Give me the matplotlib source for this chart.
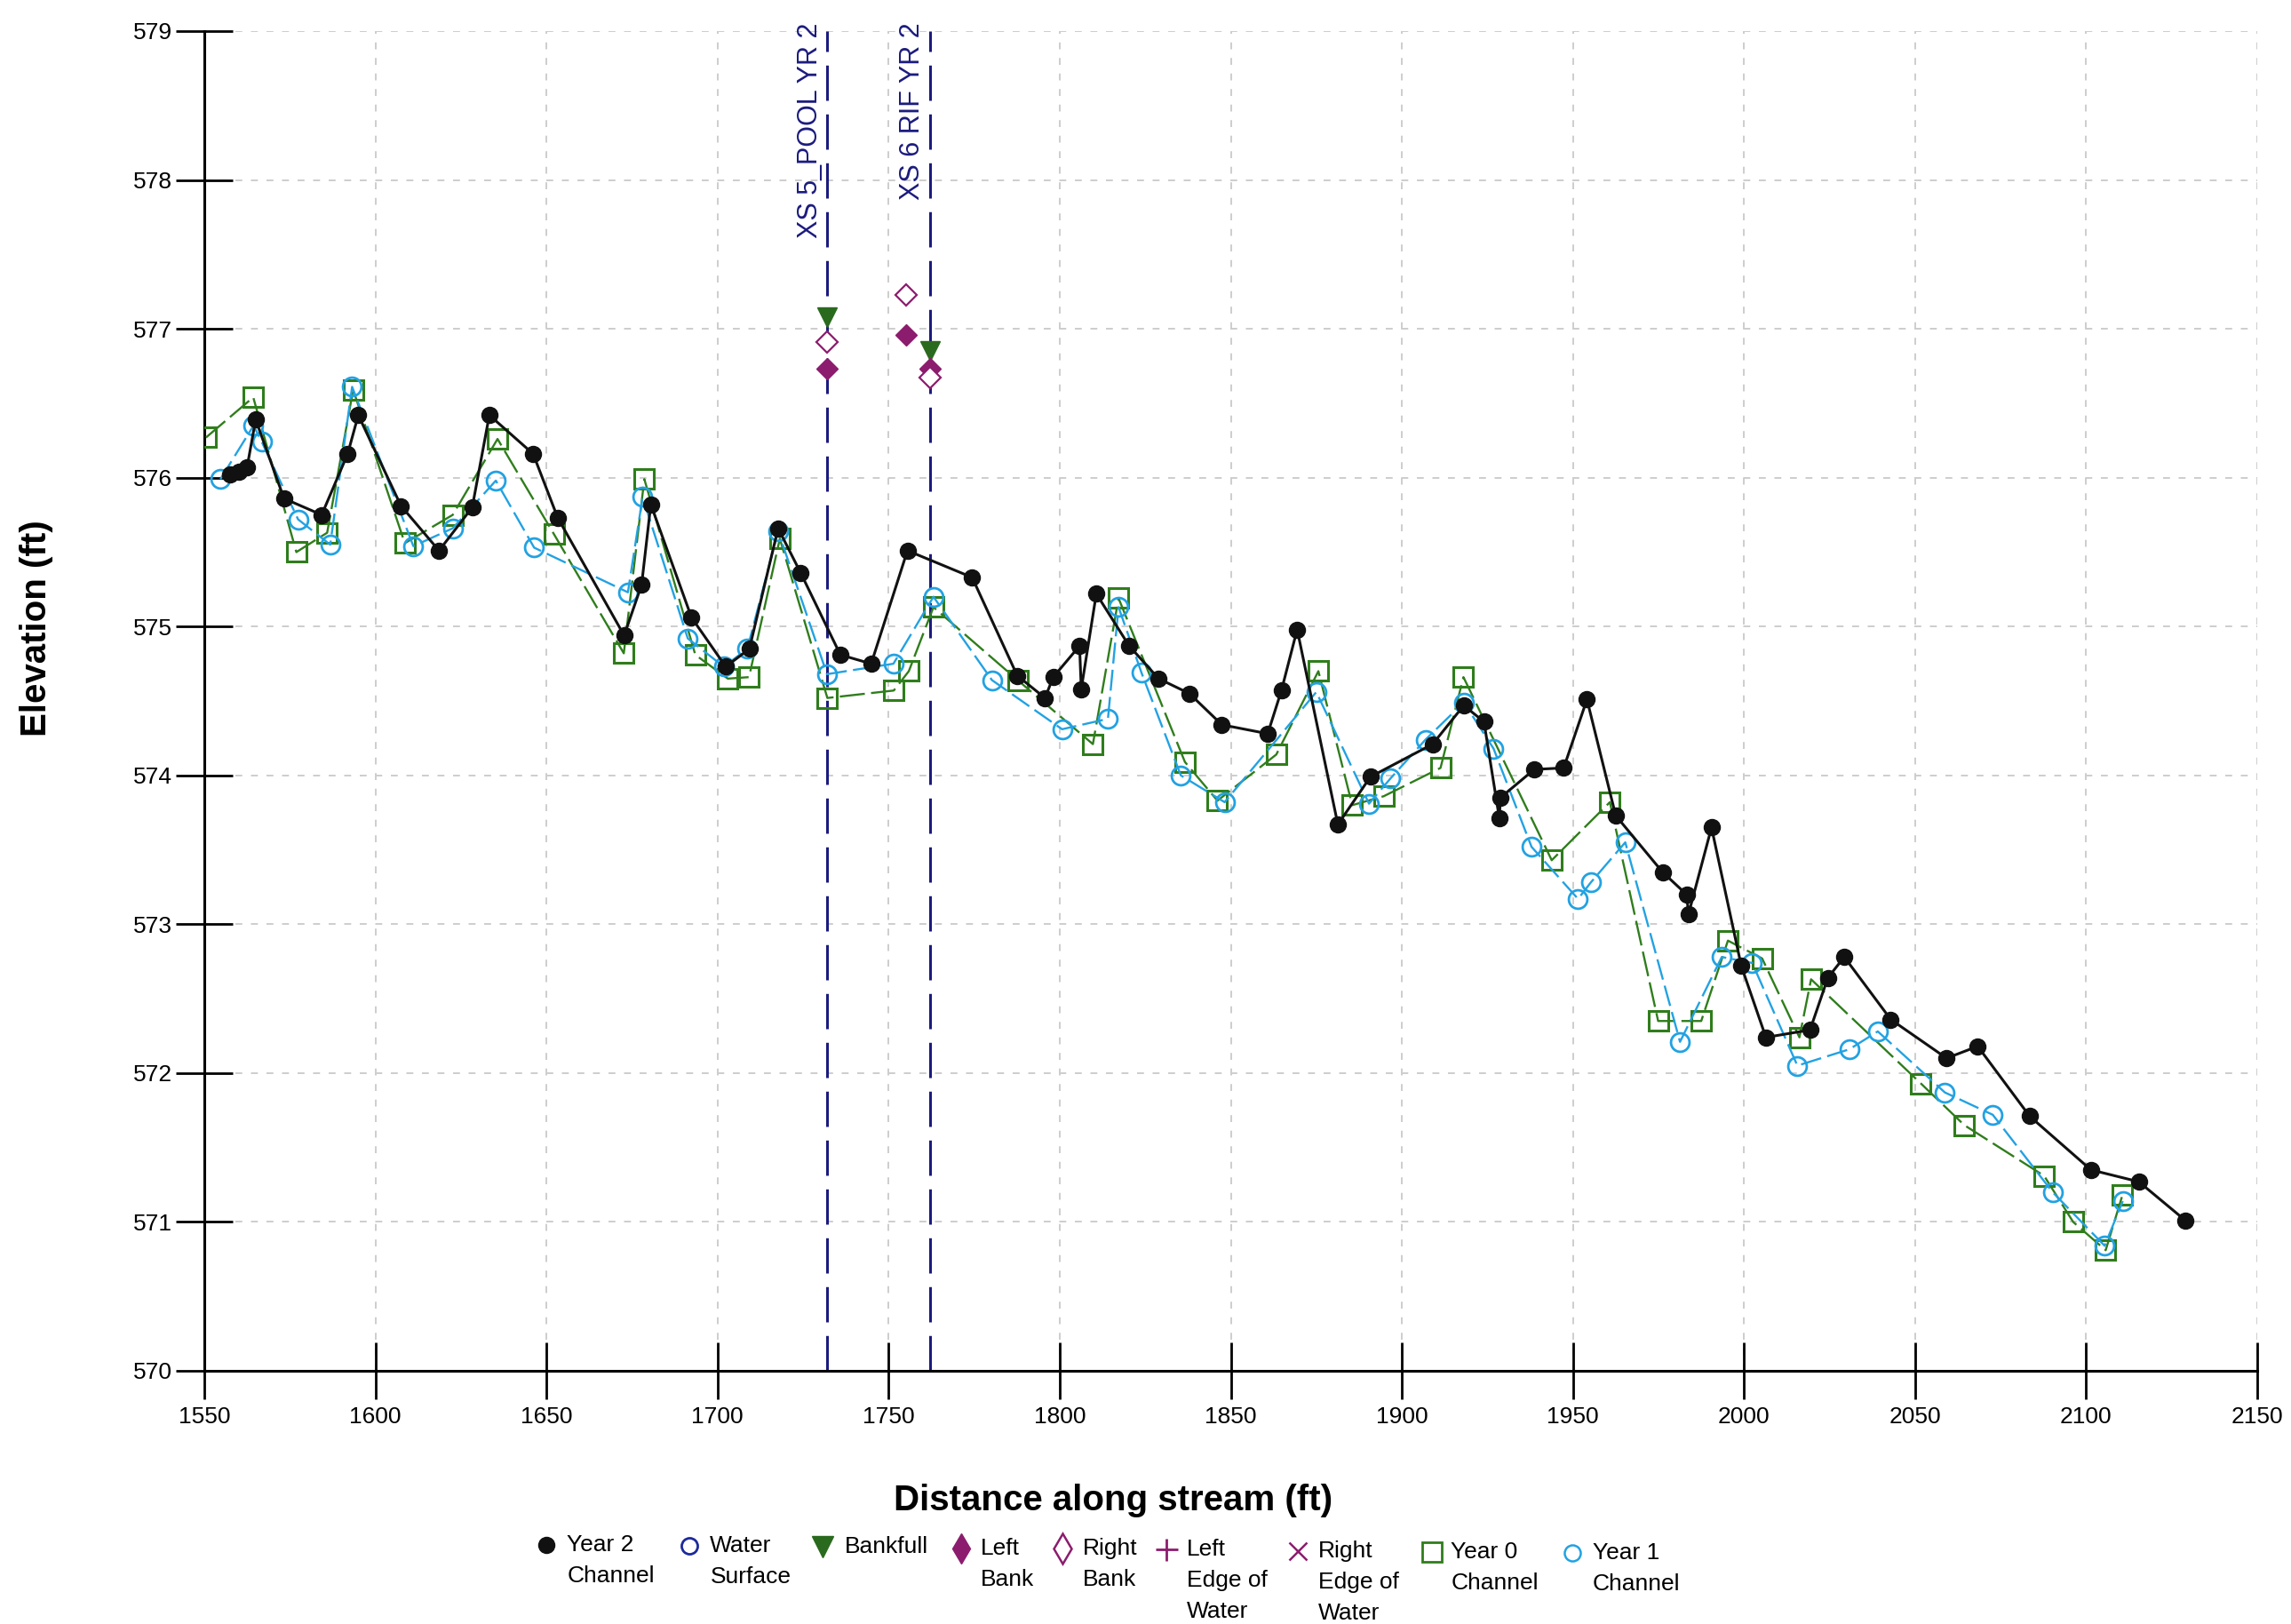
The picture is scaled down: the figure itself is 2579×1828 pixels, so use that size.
import matplotlib
matplotlib.use('Agg')
import matplotlib.pyplot as plt
from matplotlib.lines import Line2D
from matplotlib import font_manager

# ---------------- data ----------------
year2_x = [1557.5, 1560.0, 1562.5, 1565.0, 1573.3, 1584.3, 1591.9, 1595.0, 1607.5, 1618.6,
           1628.3, 1633.3, 1646.1, 1653.3, 1672.7, 1677.8, 1680.5, 1692.4, 1702.4, 1709.3,
           1717.7, 1724.3, 1735.9, 1744.9, 1755.5, 1774.4, 1787.6, 1795.7, 1798.1, 1805.8,
           1806.3, 1810.7, 1820.3, 1828.9, 1837.9, 1847.4, 1860.8, 1864.8, 1869.4, 1881.3,
           1890.8, 1909.0, 1918.1, 1924.0, 1928.5, 1928.8, 1938.7, 1947.3, 1954.1, 1962.5,
           1976.2, 1983.2, 1983.8, 1990.5, 1999.2, 2006.4, 2019.3, 2024.5, 2029.3, 2042.9,
           2059.2, 2068.3, 2083.5, 2101.4, 2115.4, 2129.0]
year2_y = [576.02, 576.04, 576.07, 576.39, 575.86, 575.75, 576.16, 576.42, 575.81, 575.51,
           575.80, 576.42, 576.16, 575.73, 574.94, 575.28, 575.82, 575.06, 574.73, 574.85,
           575.66, 575.36, 574.81, 574.75, 575.51, 575.33, 574.67, 574.52, 574.66, 574.87,
           574.58, 575.22, 574.87, 574.65, 574.55, 574.34, 574.28, 574.57, 574.98, 573.67,
           573.99, 574.21, 574.47, 574.36, 573.71, 573.85, 574.04, 574.05, 574.51, 573.73,
           573.35, 573.20, 573.07, 573.65, 572.72, 572.24, 572.29, 572.64, 572.78, 572.36,
           572.10, 572.18, 571.71, 571.35, 571.27, 571.01]

year0_x = [1550.5, 1564.3, 1576.9, 1585.9, 1593.5, 1608.6, 1622.6, 1635.7, 1652.2, 1672.6,
           1678.6, 1693.5, 1703.0, 1709.2, 1718.2, 1732.1, 1751.5, 1755.9, 1763.1, 1787.7,
           1809.7, 1817.2, 1836.6, 1846.1, 1863.3, 1875.6, 1885.5, 1894.7, 1911.3, 1918.0,
           1943.8, 1960.8, 1974.9, 1987.5, 1995.3, 2005.3, 2016.2, 2019.6, 2051.7, 2064.4,
           2087.7, 2096.2, 2105.7, 2110.6]
year0_y = [576.27, 576.54, 575.50, 575.63, 576.59, 575.56, 575.75, 576.26, 575.62, 574.82,
           575.99, 574.81, 574.65, 574.66, 575.59, 574.52, 574.57, 574.70, 575.13, 574.64,
           574.21, 575.19, 574.09, 573.83, 574.14, 574.70, 573.80, 573.86, 574.05, 574.66,
           573.43, 573.82, 572.35, 572.35, 572.89, 572.77, 572.24, 572.63, 571.93, 571.65,
           571.31, 571.00, 570.81, 571.18]

year1_x = [1554.7, 1564.4, 1566.8, 1577.4, 1586.8, 1593.2, 1611.1, 1622.6, 1635.2, 1646.4,
           1673.8, 1678.1, 1691.3, 1701.8, 1708.7, 1717.7, 1732.0, 1751.4, 1763.1, 1780.2,
           1800.7, 1814.1, 1817.2, 1823.9, 1835.4, 1848.2, 1875.0, 1890.4, 1896.7, 1906.9,
           1918.1, 1926.8, 1937.9, 1951.5, 1955.2, 1965.3, 1981.3, 1993.5, 2002.4, 2015.6,
           2030.8, 2039.1, 2058.7, 2072.7, 2090.2, 2105.4, 2110.7]
year1_y = [575.99, 576.35, 576.24, 575.72, 575.55, 576.61, 575.54, 575.66, 575.98, 575.53,
           575.23, 575.87, 574.92, 574.73, 574.85, 575.64, 574.68, 574.75, 575.20, 574.64,
           574.31, 574.38, 575.13, 574.69, 574.00, 573.82, 574.56, 573.81, 573.98, 574.24,
           574.49, 574.18, 573.52, 573.17, 573.28, 573.55, 572.21, 572.78, 572.74, 572.05,
           572.16, 572.28, 571.87, 571.72, 571.20, 570.84, 571.14]

bankfull_x = [1732, 1762]
bankfull_y = [577.08, 576.85]
left_bank_x = [1732, 1755, 1762]
left_bank_y = [576.73, 576.96, 576.73]
right_bank_x = [1732, 1755, 1762]
right_bank_y = [576.91, 577.23, 576.67]

xs_x = [1732, 1762]
xs_labels = ['XS 5_POOL YR 2', 'XS 6 RIF YR 2']

x_ticks = list(range(1550, 2151, 50))
y_ticks = list(range(570, 580))

legend_labels = [['Year 2', 'Channel'], ['Water', 'Surface'], ['Bankfull'],
                 ['Left', 'Bank'], ['Right', 'Bank'], ['Left', 'Edge of', 'Water'],
                 ['Right', 'Edge of', 'Water'], ['Year 0', 'Channel'], ['Year 1', 'Channel']]

# ---------------- style ----------------
installed = {f.name for f in font_manager.fontManager.ttflist}
NARROW = [f for f in ['Liberation Sans Narrow', 'Arial Narrow', 'Liberation Sans'] if f in installed] + ['DejaVu Sans']
HAS_NARROW = NARROW[0] in ('Liberation Sans Narrow', 'Arial Narrow')
REG = ['Liberation Sans', 'DejaVu Sans']
BLACK = '#111111'
GREEN = '#2f7d1c'
BLUE = '#22a2e2'
NAVY = '#1b1b7e'
PURPLE = '#8c1c6e'
BFGREEN = '#2a6a1e'

tick_fs = 22 if HAS_NARROW else 19
leg_fs = 21 if HAS_NARROW else 19
lab_fs = 30 if HAS_NARROW else 27

W, H = 2579, 1828
fig = plt.figure(figsize=(W / 100, H / 100), dpi=100)
L, R, T, B = 230, 2541, 35, 1543
ax = fig.add_axes([L / W, 1 - B / H, (R - L) / W, (B - T) / H])

ax.set_xlim(1550, 2150)
ax.set_ylim(570, 579)
ax.set_xticks(x_ticks)
ax.set_yticks(y_ticks)
for s in ['top', 'right']:
    ax.spines[s].set_visible(False)
for s in ['left', 'bottom']:
    ax.spines[s].set_linewidth(2.2)
    ax.spines[s].set_color('black')
ax.tick_params(axis='both', direction='inout', length=46, width=2.0, labelsize=tick_fs)
ax.tick_params(axis='x', pad=6)
ax.tick_params(axis='y', pad=3)
for lab in ax.get_xticklabels() + ax.get_yticklabels():
    lab.set_family(NARROW)
ax.grid(True, color='#cdcdcd', linestyle=(0, (4, 5)), linewidth=1.4)
ax.set_axisbelow(True)

# XS lines and labels
for xv, lab in zip(xs_x, xs_labels):
    ax.plot([xv, xv], [570, 579], color=NAVY, lw=2.2, linestyle=(0, (13, 5)), zorder=2)
    ax.annotate(lab, xy=(xv, 579), xytext=(-3, 7), textcoords='offset points',
                rotation=90, ha='right', va='top', color=NAVY, fontsize=22,
                family=REG, annotation_clip=False)

# series
ax.plot(year0_x, year0_y, color=GREEN, lw=1.7, linestyle=(0, (12, 3)), marker='s',
        markersize=16, markerfacecolor='none', markeredgecolor=GREEN, markeredgewidth=2.2,
        zorder=3)
ax.plot(year1_x, year1_y, color=BLUE, lw=1.7, linestyle=(0, (10, 3)), marker='o',
        markersize=15, markerfacecolor='none', markeredgecolor=BLUE, markeredgewidth=2.0,
        zorder=4)
ax.plot(year2_x, year2_y, color=BLACK, lw=2.2, marker='o', markersize=13,
        markerfacecolor=BLACK, markeredgecolor=BLACK, zorder=5)

ax.plot(bankfull_x, bankfull_y, linestyle='none', marker='v', markersize=16,
        color=BFGREEN, zorder=6)
ax.plot(left_bank_x, left_bank_y, linestyle='none', marker='D', markersize=12,
        color=PURPLE, zorder=6)
ax.plot(right_bank_x, right_bank_y, linestyle='none', marker='D', markersize=12,
        markerfacecolor='white', markeredgecolor=PURPLE, markeredgewidth=1.6, zorder=6)

# axis labels
fig.text(1253 / W, 1 - 1689 / H, 'Distance along stream (ft)', ha='center', va='center',
         fontsize=lab_fs + 2, fontweight='bold', family=NARROW)
fig.text(41 / W, 1 - 707 / H, 'Elevation (ft)', ha='center', va='center', rotation=90,
         fontsize=lab_fs + 2, fontweight='bold', family=NARROW)

# legend (manual)
marker_specs = [
    dict(marker='o', markersize=13, markerfacecolor=BLACK, markeredgecolor=BLACK),
    dict(marker='o', markersize=13, markerfacecolor='none', markeredgecolor='#1c2a9c', markeredgewidth=2),
    dict(marker='v', markersize=17, markerfacecolor=BFGREEN, markeredgecolor=BFGREEN),
    dict(marker='d', markersize=17, markerfacecolor=PURPLE, markeredgecolor=PURPLE),
    dict(marker='d', markersize=17, markerfacecolor='none', markeredgecolor=PURPLE, markeredgewidth=1.8),
    dict(marker='+', markersize=18, markeredgecolor=PURPLE, markeredgewidth=2),
    dict(marker='x', markersize=15, markeredgecolor=PURPLE, markeredgewidth=1.8),
    dict(marker='s', markersize=16, markerfacecolor='none', markeredgecolor=GREEN, markeredgewidth=2),
    dict(marker='o', markersize=13, markerfacecolor='none', markeredgecolor=BLUE, markeredgewidth=1.8),
]
marker_rx = [374, 472, 563, 658, 727, 798, 888, 980, 1076]
text_rx = [388, 486, 578, 671, 741, 812, 902, 993, 1090]
sc = W / 1568.0
for spec, mx, tx, lines in zip(marker_specs, marker_rx, text_rx, legend_labels):
    ry = 1057 + (mx - 374) * 6.0 / 702.0
    py = ry * sc
    fig.add_artist(Line2D([mx * sc / W], [1 - py / H], transform=fig.transFigure,
                          linestyle='none', **spec))
    for i, t in enumerate(lines):
        fig.text(tx * sc / W, 1 - (py + i * 35) / H, t, ha='left', va='center',
                 fontsize=leg_fs, family=NARROW)

fig.savefig('out.png', dpi=100, facecolor='white')
